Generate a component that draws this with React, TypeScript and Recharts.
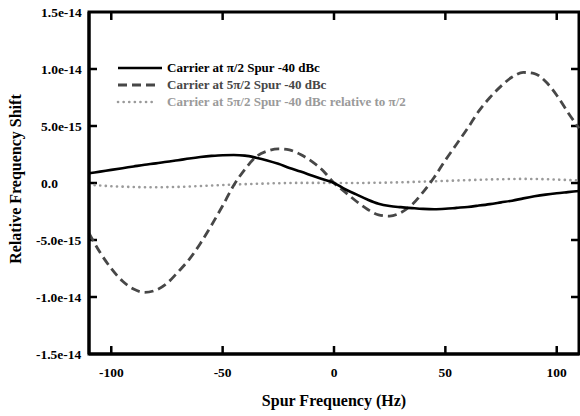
import React from 'react'
import { LineChart, Line, XAxis, YAxis, Legend, ReferenceArea, ReferenceLine } from 'recharts'

// spur frequency samples (Hz)
const freqHz = [
  -110, -105, -100, -95, -90, -85, -80, -75, -70, -65, -60, -55, -50, -45, -40, -35, -30, -25, -20, -15, -10, -5,
  0, 5, 10, 15, 20, 25, 30, 35, 40, 45, 50, 55, 60, 65, 70, 75, 80, 85, 90, 95, 100, 105, 110,
]

// relative frequency shift, in units of 1e-15
const carrierPi2 = [
  0.85, 1.0, 1.15, 1.3, 1.45, 1.6, 1.72, 1.87, 2.0, 2.15, 2.28, 2.38, 2.44, 2.45, 2.4, 2.22, 1.98, 1.68, 1.32, 1.0, 0.66, 0.32,
  0, -0.55, -1.0, -1.45, -1.82, -2.02, -2.12, -2.2, -2.27, -2.3, -2.26, -2.18, -2.1, -1.98, -1.85, -1.7, -1.55, -1.35, -1.17, -1.02, -0.9, -0.8, -0.7,
]
const carrier5Pi2 = [
  -4.4, -6.1, -7.5, -8.6, -9.3, -9.6, -9.4, -8.8, -7.8, -6.7, -5.3, -3.7, -2.0, -0.2, 1.2, 2.3, 2.8, 3.0, 2.9, 2.5, 1.9, 1.1,
  0, -0.8, -1.6, -2.3, -2.8, -2.9, -2.6, -1.9, -0.8, 0.5, 2.0, 3.4, 4.8, 6.3, 7.5, 8.5, 9.3, 9.7, 9.6, 8.9, 7.7, 6.2, 4.8,
]
const relativeTo = [
  -0.15, -0.22, -0.28, -0.32, -0.35, -0.37, -0.37, -0.36, -0.34, -0.31, -0.27, -0.22, -0.18, -0.14, -0.1, -0.07, -0.04, -0.02, 0, 0.01, 0.01, 0.01,
  0, 0, 0, 0.01, 0.02, 0.04, 0.06, 0.09, 0.12, 0.15, 0.18, 0.22, 0.25, 0.28, 0.31, 0.33, 0.35, 0.36, 0.35, 0.33, 0.3, 0.26, 0.22,
]

const xTicks = [-100, -50, 0, 50, 100]
const yTicks = [-1.5e-14, -1e-14, -5e-15, 0, 5e-15, 1e-14, 1.5e-14]
const xDomain = [-110, 110]
const yDomain = [-1.5e-14, 1.5e-14]

const seriesNames = [
  'Carrier at π/2 Spur -40 dBc',
  'Carrier at 5π/2 Spur -40 dBc',
  'Carrier at 5π/2 Spur -40 dBc relative to π/2',
]

const FONT = '"Liberation Serif", "Times New Roman", serif'
// inward tick length, in data units (~8px)
const TICK_HZ = 3.6
const TICK_Y = 7e-16

const data = freqHz.map((hz, i) => ({
  hz,
  pi2: carrierPi2[i] * 1e-15,
  fivePi2: carrier5Pi2[i] * 1e-15,
  rel: relativeTo[i] * 1e-15,
}))

const fmtY = (v: number) => (v === 0 ? '0.0' : v.toExponential(1))

function YTick({ x, y, payload }: any) {
  const v = payload.value as number
  return (
    <text x={x - (v < 0 ? 5 : 0)} y={y} dy="0.35em" textAnchor="start" fontFamily={FONT} fontWeight="bold" fontSize={13.5} fill="#000">
      {fmtY(v)}
    </text>
  )
}

function XTick({ x, y, payload }: any) {
  return (
    <text x={x} y={y} dy="0.71em" textAnchor="middle" fontFamily={FONT} fontWeight="bold" fontSize={13.5} fill="#000">
      {payload.value}
    </text>
  )
}

const legendRows = [
  { name: seriesNames[0], color: '#000', dash: undefined as string | undefined, w: 46, sw: 2.6, cap: 'butt' },
  { name: seriesNames[1], color: '#474747', dash: '9 5', w: 40, sw: 2.8, cap: 'butt' },
  { name: seriesNames[2], color: '#9a9a9a', dash: '0.1 5.5', w: 36, sw: 2.6, cap: 'round' },
]

function ChartLegend() {
  return (
    <div style={{ fontFamily: FONT, fontWeight: 'bold', fontSize: 13, lineHeight: '17px' }}>
      {legendRows.map((r) => (
        <div key={r.name} style={{ display: 'flex', alignItems: 'center', height: 17, whiteSpace: 'nowrap' }}>
          <svg width={47} height={8} style={{ display: 'block' }}>
            <line x1={2} y1={4} x2={r.w} y2={4} stroke={r.color} strokeWidth={r.sw} strokeDasharray={r.dash} strokeLinecap={r.cap as any} />
          </svg>
          <span style={{ marginLeft: 4, color: r.color }}>{r.name}</span>
        </div>
      ))}
    </div>
  )
}

const frame = { stroke: '#000', strokeWidth: 3 }

export default function App() {
  const innerY = yTicks.filter((v) => v > yDomain[0] && v < yDomain[1])
  return (
    <div style={{ position: 'absolute', left: 0, top: 0, width: 580, height: 416, background: '#fff' }}>
      <LineChart width={580} height={416} data={data} margin={{ top: 12, right: 1, bottom: 0, left: 0 }} style={{ fontFamily: FONT }}>
        <XAxis
          dataKey="hz"
          type="number"
          domain={xDomain}
          ticks={xTicks}
          height={62}
          tickSize={0}
          tickMargin={13}
          axisLine={frame}
          tickLine={false}
          tick={<XTick />}
          label={{ value: 'Spur Frequency (Hz)', position: 'insideBottom', offset: 10, style: { fontFamily: FONT, fontWeight: 'bold', fontSize: 16, fill: '#000' } }}
        />
        <YAxis
          type="number"
          domain={yDomain}
          ticks={yTicks}
          width={89}
          tickSize={0}
          tickMargin={48}
          axisLine={frame}
          tickLine={false}
          tick={<YTick />}
          label={{ value: 'Relative Frequency Shift', angle: -90, position: 'insideLeft', offset: 15, dx: 0, dy: -4, style: { textAnchor: 'middle', fontFamily: FONT, fontWeight: 'bold', fontSize: 16, fill: '#000' } }}
        />
        <ReferenceArea x1={xDomain[0]} x2={xDomain[1]} y1={yDomain[0]} y2={yDomain[1]} fill="none" stroke="#000" strokeWidth={3} ifOverflow="visible" />
        {xTicks.map((t) => (
          <ReferenceLine key={`b${t}`} segment={[{ x: t, y: yDomain[0] }, { x: t, y: yDomain[0] + TICK_Y }]} stroke="#000" strokeWidth={2.5} ifOverflow="visible" />
        ))}
        {xTicks.map((t) => (
          <ReferenceLine key={`t${t}`} segment={[{ x: t, y: yDomain[1] }, { x: t, y: yDomain[1] - TICK_Y }]} stroke="#000" strokeWidth={2.5} ifOverflow="visible" />
        ))}
        {innerY.map((v) => (
          <ReferenceLine key={`l${v}`} segment={[{ x: xDomain[0], y: v }, { x: xDomain[0] + TICK_HZ, y: v }]} stroke="#000" strokeWidth={2.5} ifOverflow="visible" />
        ))}
        {innerY.map((v) => (
          <ReferenceLine key={`r${v}`} segment={[{ x: xDomain[1], y: v }, { x: xDomain[1] - TICK_HZ, y: v }]} stroke="#000" strokeWidth={2.5} ifOverflow="visible" />
        ))}
        <Legend
          layout="horizontal"
          verticalAlign="middle"
          align="center"
          content={<ChartLegend />}
          wrapperStyle={{ position: 'absolute', left: 116, top: 59, width: 'auto', height: 'auto' }}
        />
        <Line dataKey="rel" name={seriesNames[2]} type="monotone" stroke="#9a9a9a" strokeWidth={2.6} strokeDasharray="0.1 5.5" strokeLinecap="round" dot={false} activeDot={false} isAnimationActive={false} />
        <Line dataKey="fivePi2" name={seriesNames[1]} type="monotone" stroke="#474747" strokeWidth={2.8} strokeDasharray="9 5" dot={false} activeDot={false} isAnimationActive={false} />
        <Line dataKey="pi2" name={seriesNames[0]} type="monotone" stroke="#000" strokeWidth={2.6} dot={false} activeDot={false} isAnimationActive={false} />
      </LineChart>
    </div>
  )
}
